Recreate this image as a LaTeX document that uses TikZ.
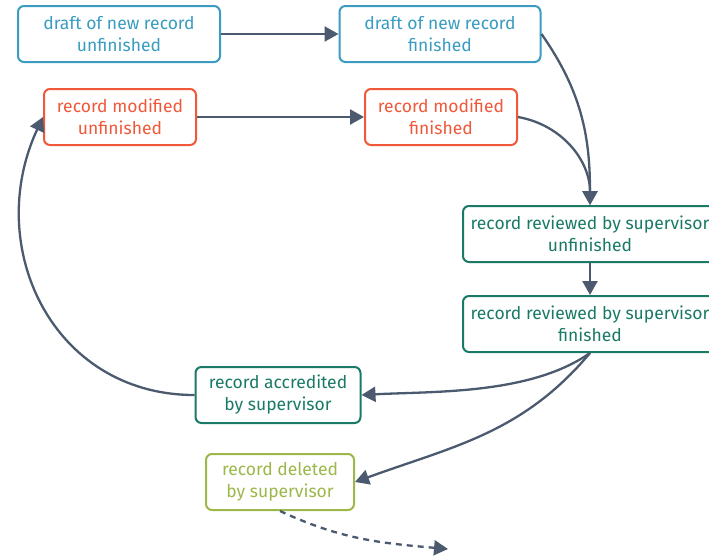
\documentclass[tikz,border=0pt]{standalone}
\usepackage{fontspec}
\setmainfont{Fira Sans}
\usepackage{xcolor}
\usetikzlibrary{positioning}
\usetikzlibrary{arrows.meta}

\definecolor{draftblue}{HTML}{3A9CC0}
\definecolor{modred}{HTML}{F0583A}
\definecolor{revgreen}{HTML}{1A7A66}
\definecolor{delgreen}{HTML}{9DB84A}
\definecolor{edgegray}{HTML}{4B5A6E}

\tikzset{
	state/.style={draw, rounded corners=6pt, line width=2pt, fill=white, align=center,
		minimum height=56pt, inner sep=2pt, font=\fontsize{17.5}{22}\selectfont},
	draftstate/.style={state, draw=draftblue, text=draftblue},
	modstate/.style={state, draw=modred, text=modred},
	revstate/.style={state, draw=revgreen, text=revgreen},
	delstate/.style={state, draw=delgreen, text=delgreen},
	flow/.style={draw=edgegray, line width=2.3pt, -{Triangle[length=14pt,width=15pt]}},
	dashflow/.style={flow, dash pattern=on 6pt off 5pt}
}

\begin{document}
\begin{tikzpicture}[x=1pt,y=-1pt]

	\clip (0,0) rectangle (709,558);

	\node[draftstate, minimum width=202pt] (draftu) at (119,34) {draft of new record\\unfinished};
	\node[draftstate, minimum width=201pt] (draftf) at (440,34) {draft of new record\\finished};
	\node[modstate, minimum width=152pt] (modu) at (120,117) {record modified\\unfinished};
	\node[modstate, minimum width=152pt] (modf) at (441,117) {record modified\\finished};
	\node[revstate, minimum width=254pt] (revu) at (590,234) {record reviewed by supervisor\\unfinished};
	\node[revstate, minimum width=254pt] (revf) at (590,324) {record reviewed by supervisor\\finished};
	\node[revstate, minimum width=165pt] (accr) at (278,395) {record accredited\\by supervisor};
	\node[delstate, minimum width=148pt] (dele) at (280,482) {record deleted\\by supervisor};
	\coordinate (out) at (448,549);

	\draw[flow] (draftu) -- (draftf);
	\draw[flow] (modu) -- (modf);
	\draw[flow] (draftf.east) to[out=-55, in=90] (revu.north);
	\draw[flow] (modf.east) to[out=-10, in=90] (revu.north);
	\draw[flow] (revu) -- (revf);
	\draw[flow] (revf.south) to[out=-145, in=3, looseness=0.8] (accr.east);
	\draw[flow] (revf.south) to[out=-130, in=20] (dele.east);
	\draw[flow] (accr.west) to[out=180, in=-115, looseness=1.15] (modu.west);
	\draw[dashflow] (dele.south) to[out=-25, in=175] (out);

\end{tikzpicture}
\end{document}
